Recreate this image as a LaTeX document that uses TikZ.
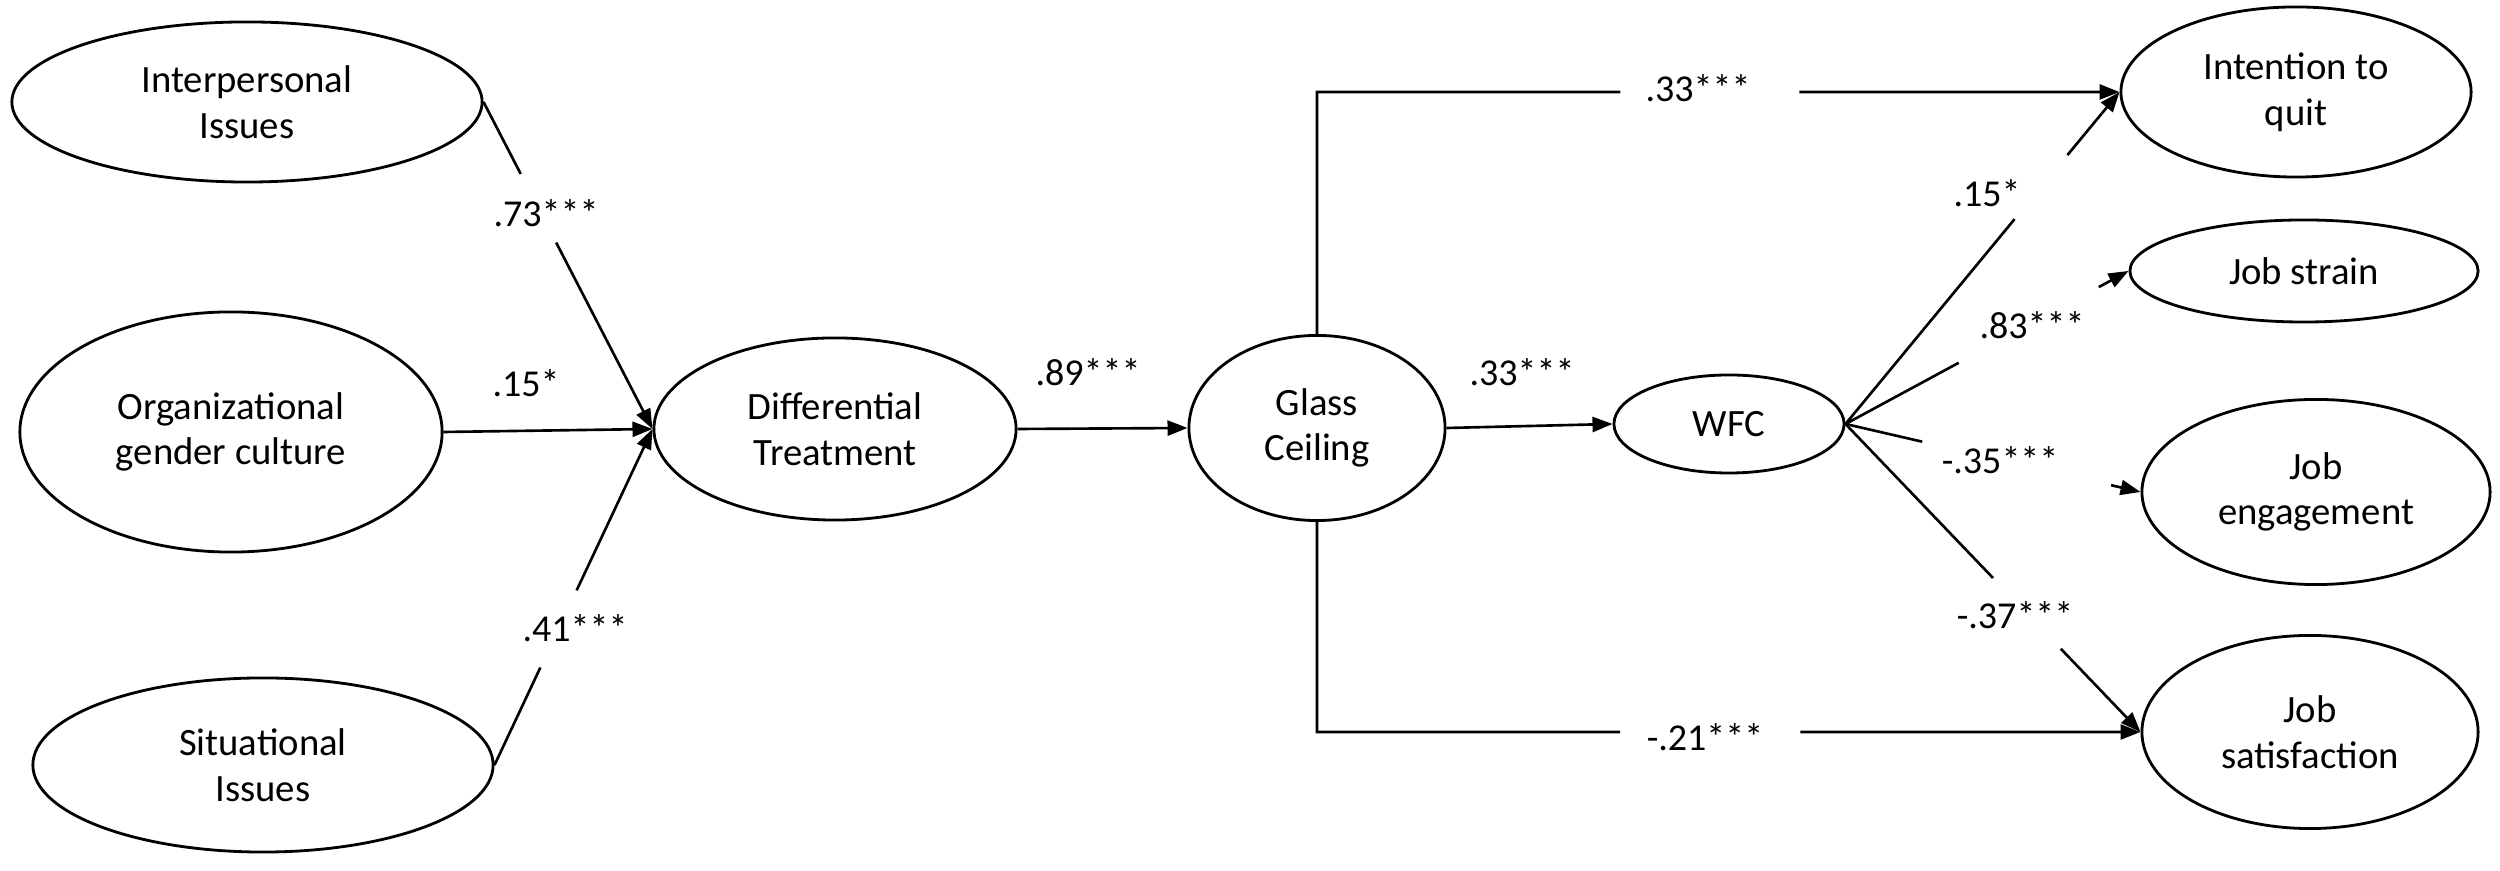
\documentclass[tikz,border=0pt]{standalone}
\usepackage{fontspec}
\setmainfont{Carlito}
\usetikzlibrary{shapes.geometric,arrows.meta,calc}
\begin{document}
\begin{tikzpicture}[x=0.01cm,y=-0.01cm,
  lat/.style={draw,ellipse,line width=0.8pt,inner sep=0pt,align=center,font=\fontsize{11pt}{13pt}\selectfont},
  lbl/.style={inner sep=0pt,font=\fontsize{10.8pt}{13pt}\selectfont},
  conn/.style={line width=0.75pt},
  arr/.style={conn,-{Triangle[length=2mm,width=1.5mm]}}]
\useasboundingbox[fill=white] (0,0) rectangle (2500,871);
% latent variables
\node[lat,minimum width=4.7cm,minimum height=1.6cm] (ii) at (247,102) {Interpersonal\\Issues};
\node[lat,minimum width=4.22cm,minimum height=2.4cm] (og) at (231,432) {Organizational\\gender culture};
\node[lat,minimum width=4.6cm,minimum height=1.74cm] (si) at (263,765) {Situational\\Issues};
\node[lat,minimum width=3.62cm,minimum height=1.82cm] (dt) at (835,429) {Differential\\Treatment};
\node[lat,minimum width=2.56cm,minimum height=1.85cm] (gc) at (1317,428) {Glass\\Ceiling};
\node[lat,minimum width=2.3cm,minimum height=0.98cm] (wfc) at (1729,424) {WFC};
\node[lat,minimum width=3.5cm,minimum height=1.7cm] (iq) at (2296,92) {Intention to\\quit};
\node[lat,minimum width=3.48cm,minimum height=1.02cm] (jst) at (2304,271) {Job strain};
\node[lat,minimum width=3.48cm,minimum height=1.85cm] (je) at (2316,492) {Job\\engagement};
\node[lat,minimum width=3.36cm,minimum height=1.93cm] (js) at (2310,732) {Job\\satisfaction};
% Interpersonal -> DT
\coordinate (a1) at ($(ii.east)!0.22!(dt.west)$);
\coordinate (a2) at ($(ii.east)!0.43!(dt.west)$);
\draw[conn] (ii.east) -- (a1);
\draw[arr] (a2) -- (dt.west);
\node[lbl] (l1) at (546,213) {.73***};
% Org -> DT
\draw[arr] (og.east) -- (dt.west);
\node[lbl] (l2) at (526,383) {.15*};
% Situational -> DT
\coordinate (b1) at ($(si.east)!0.29!(dt.west)$);
\coordinate (b2) at ($(si.east)!0.52!(dt.west)$);
\draw[conn] (si.east) -- (b1);
\draw[arr] (b2) -- (dt.west);
\node[lbl] (l3) at (575,628) {.41***};
% DT -> GC -> WFC
\draw[arr] (dt.east) -- (gc.west);
\node[lbl] (l4) at (1088,372) {.89***};
\draw[arr] (gc.east) -- (wfc.west);
\node[lbl] (l5) at (1522,372) {.33***};
% GC -> Intention (top)
\coordinate (tc) at (gc.north |- iq.west);
\coordinate (c1) at ($(tc)!0.378!(iq.west)$);
\coordinate (c2) at ($(tc)!0.601!(iq.west)$);
\draw[conn] (gc.north) -- (tc) -- (c1);
\draw[arr] (c2) -- (iq.west);
\node[lbl] (l6) at (1698,88) {.33***};
% GC -> Satisfaction (bottom)
\coordinate (bc) at (gc.south |- js.west);
\coordinate (d1) at ($(bc)!0.368!(js.west)$);
\coordinate (d2) at ($(bc)!0.587!(js.west)$);
\draw[conn] (gc.south) -- (bc) -- (d1);
\draw[arr] (d2) -- (js.west);
\node[lbl] (l7) at (1705,737) {-.21***};
% WFC fan
\coordinate (e1) at ($(wfc.east)!0.617!(iq.west)$);
\coordinate (e2) at ($(wfc.east)!0.81!(iq.west)$);
\draw[conn] (wfc.east) -- (e1);
\draw[arr] (e2) -- (iq.west);
\node[lbl] (l8) at (1987,193) {.15*};
\coordinate (f1) at ($(wfc.east)!0.40!(jst.west)$);
\coordinate (f2) at ($(wfc.east)!0.895!(jst.west)$);
\draw[conn] (wfc.east) -- (f1);
\draw[arr] (f2) -- (jst.west);
\node[lbl] (l9) at (2032,325) {.83***};
\coordinate (g1) at ($(wfc.east)!0.26!(je.west)$);
\coordinate (g2) at ($(wfc.east)!0.90!(je.west)$);
\draw[conn] (wfc.east) -- (g1);
\draw[arr] (g2) -- (je.west);
\node[lbl] (l10) at (2000,460) {-.35***};
\coordinate (h1) at ($(wfc.east)!0.50!(js.west)$);
\coordinate (h2) at ($(wfc.east)!0.73!(js.west)$);
\draw[conn] (wfc.east) -- (h1);
\draw[arr] (h2) -- (js.west);
\node[lbl] (l11) at (2015,615) {-.37***};
\end{tikzpicture}
\end{document}
